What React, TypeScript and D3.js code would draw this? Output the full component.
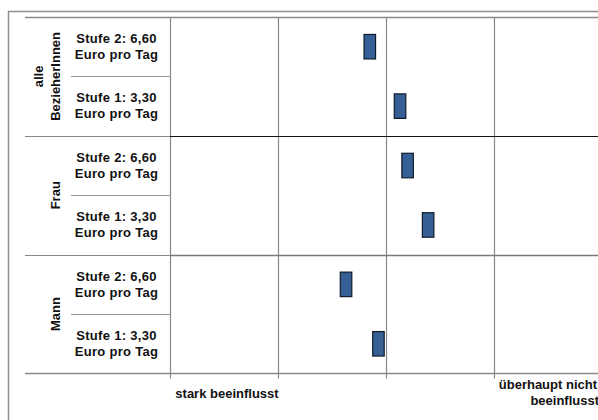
import React from "react";
import * as d3 from "d3";

const groups = ["alle|BezieherInnen", "Frau", "Mann"];
const levels = ["Stufe 2: 6,60|Euro pro Tag", "Stufe 1: 3,30|Euro pro Tag"];
const valuesAlle = [2.85, 3.13];
const valuesFrau = [3.2, 3.39];
const valuesMann = [2.63, 2.93];
const groupValues = [valuesAlle, valuesFrau, valuesMann];
const xTicks = [1, 2, 3, 4, 5];
const xTickLabels = ["stark beeinflusst", "", "", "überhaupt nicht|beeinflusst"];

const W = 598;
const H = 420;
const FONT = "'Liberation Sans', Arial, sans-serif";

export default function App() {
  const plotLeft = 170;
  const plotTop = 17;
  const plotBottom = 373.5;
  const x = d3.scaleLinear().domain([1, 5]).range([plotLeft, 602]);
  const yGroup = d3
    .scaleBand<number>()
    .domain(groups.map((_, i) => i))
    .range([plotTop, plotBottom]);
  const gh = yGroup.bandwidth();
  const yRow = d3
    .scaleBand<number>()
    .domain(levels.map((_, i) => i))
    .range([0, gh]);
  const rh = yRow.bandwidth();
  const barW = 11.5;
  const barH = 24.5;
  const grid = "#888888";

  return (
    <svg
      width={W}
      height={H}
      style={{ position: "fixed", left: 0, top: 0, background: "#fff" }}
      fontFamily={FONT}
      fontWeight="bold"
    >
      <rect x={0} y={0} width={W} height={H} fill="#fff" />
      {/* outer border */}
      <rect x={8.5} y={11.5} width={700} height={500} fill="none" stroke="#8f8f8f" strokeWidth={1.5} />

      {/* vertical grid lines */}
      {xTicks.map((t, i) => (
        <line
          key={"g" + i}
          x1={Math.round(x(t)) + 0.5}
          x2={Math.round(x(t)) + 0.5}
          y1={plotTop}
          y2={plotBottom + 5}
          stroke={grid}
          strokeWidth={1.2}
        />
      ))}

      {/* top line */}
      <line x1={25} x2={W} y1={plotTop + 0.5} y2={plotTop + 0.5} stroke="#8a8a8a" strokeWidth={1.5} />

      {/* group separators */}
      {groups.map((_, gi) => {
        if (gi === 0) return null;
        const yy = Math.round(yGroup(gi)!) + 0.5;
        const dark = gi === 1;
        return (
          <g key={"sep" + gi}>
            <line x1={25} x2={plotLeft} y1={yy} y2={yy} stroke="#8a8a8a" strokeWidth={1.2} />
            <line x1={plotLeft} x2={W} y1={yy} y2={yy} stroke={dark ? "#111" : "#7a7a7a"} strokeWidth={dark ? 1.2 : 1.6} />
          </g>
        );
      })}
      {/* bottom line */}
      <line x1={25} x2={W} y1={plotBottom} y2={plotBottom} stroke="#8a8a8a" strokeWidth={1.3} />

      {/* sub-row separators */}
      {groups.map((_, gi) => {
        const yy = Math.round(yGroup(gi)! + yRow(1)!) + 0.5;
        return <line key={"sub" + gi} x1={71} x2={plotLeft} y1={yy} y2={yy} stroke="#999" strokeWidth={1.2} />;
      })}

      {/* group labels */}
      {groups.map((g, gi) => {
        const cy = yGroup(gi)! + gh / 2;
        const lines = g.split("|");
        return (
          <text
            key={"gl" + gi}
            transform={`translate(0,${cy}) rotate(-90)`}
            textAnchor="middle"
            fontSize={13}
            fill="#111"
          >
            {lines.map((ln, li) => (
              <tspan key={li} x={0} y={lines.length === 1 ? 60 : li === 0 ? 43 : 60}>
                {ln}
              </tspan>
            ))}
          </text>
        );
      })}

      {/* row labels */}
      {groups.map((_, gi) =>
        levels.map((lv, li) => {
          const cy = yGroup(gi)! + yRow(li)! + rh / 2;
          const lines = lv.split("|");
          return (
            <text key={"rl" + gi + li} textAnchor="middle" fontSize={13} fill="#111" letterSpacing={0.3}>
              <tspan x={116.5} y={cy - 3.8}>{lines[0]}</tspan>
              <tspan x={116.5} y={cy + 12.2}>{lines[1]}</tspan>
            </text>
          );
        })
      )}

      {/* bars (markers) */}
      {groupValues.map((vals, gi) =>
        vals.map((v, li) => {
          const cy = yGroup(gi)! + yRow(li)! + rh / 2;
          return (
            <rect
              key={"b" + gi + li}
              x={x(v) - barW / 2}
              y={cy - barH / 2}
              width={barW}
              height={barH}
              fill="#365f96"
              stroke="#0f1a2a"
              strokeWidth={1.2}
            />
          );
        })
      )}

      {/* x tick labels, centered in bands */}
      {xTickLabels.map((lab, i) => {
        if (!lab) return null;
        const lines = lab.split("|");
        if (lines.length === 1) {
          const cx = (x(xTicks[i]) + x(xTicks[i + 1])) / 2 + 3;
          return (
            <text key={"xl" + i} x={cx} y={398} textAnchor="middle" fontSize={13} fill="#111">
              {lines[0]}
            </text>
          );
        }
        return (
          <text key={"xl" + i} textAnchor="end" fontSize={13} fill="#111">
            <tspan x={597} y={389}>{lines[0]}</tspan>
            <tspan x={599} y={405}>{lines[1]}</tspan>
          </text>
        );
      })}
    </svg>
  );
}
